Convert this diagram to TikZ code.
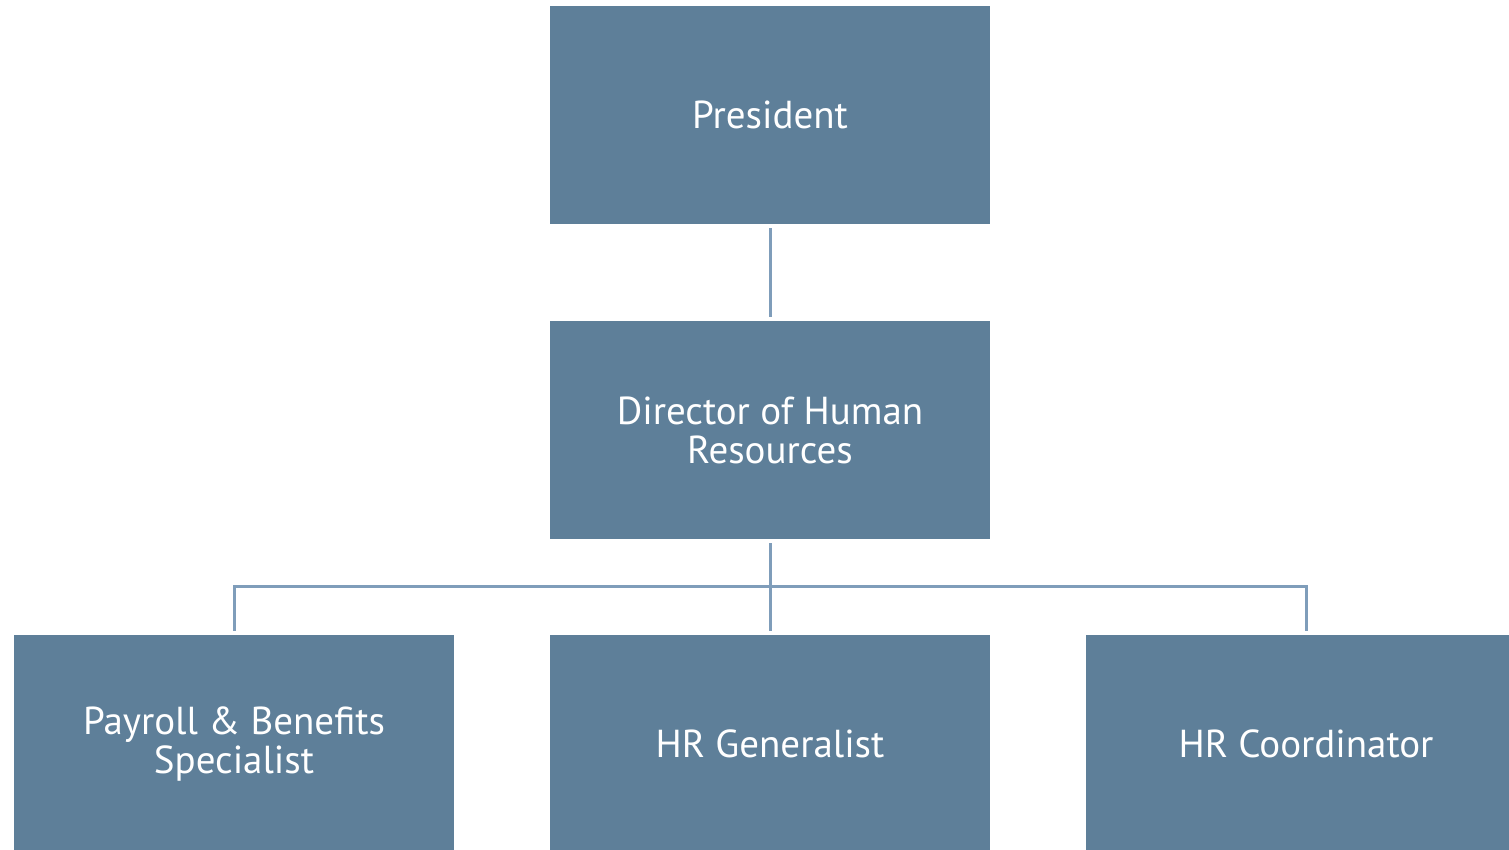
\documentclass[tikz,border=0pt]{standalone}
\usepackage{fontspec}
\setmainfont{PT Sans}
\definecolor{boxfill}{HTML}{5E7F99}
\definecolor{connc}{HTML}{7F9DBA}
\begin{document}
\begin{tikzpicture}[x=1pt,y=-1pt,
  orgbox/.style={draw=none,fill=boxfill,minimum width=440pt,minimum height=218pt,inner sep=0pt,
    text=white,align=center,font=\fontsize{39}{39}\selectfont},
  conn/.style={draw=connc,line width=3pt}]
\useasboundingbox (0,0) rectangle (1509,849);
\clip (0,0) rectangle (1509,849);
\fill[white] (0,0) rectangle (1509,849);
\node[orgbox] (pres) at (770,115) {President};
\node[orgbox] (dir) at (770,430) {Director of Human\\Resources};
\node[orgbox] (pay) at (234,744) {Payroll \& Benefits\\Specialist};
\node[orgbox] (gen) at (770,744) {HR Generalist};
\node[orgbox] (coord) at (1306,744) {HR Coordinator};
\coordinate (bus) at (770,586);
\draw[conn] ([yshift=-4pt]pres.south) -- ([yshift=4pt]dir.north);
\draw[conn] ([yshift=-4pt]dir.south) -- (bus);
\draw[conn] ([yshift=4pt]pay.north) |- (bus) -| ([yshift=4pt]coord.north);
\draw[conn] (bus) -- ([yshift=4pt]gen.north);
\end{tikzpicture}
\end{document}
